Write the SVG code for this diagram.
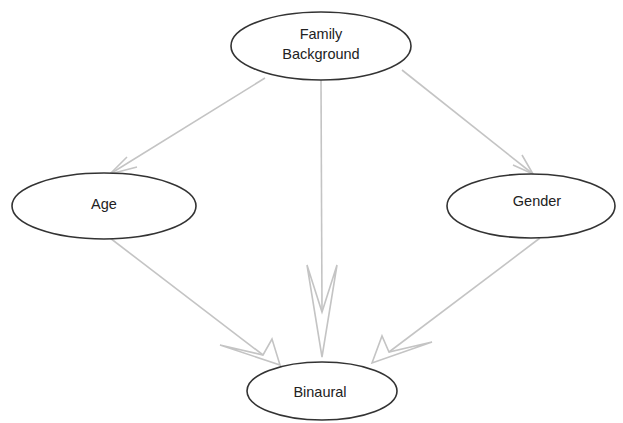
<svg xmlns="http://www.w3.org/2000/svg" width="623" height="423" viewBox="0 0 623 423">
<style>
.node ellipse{fill:#fff;stroke:#333;stroke-width:1.6}
.node text{font-family:"Liberation Sans",Arial,sans-serif;font-size:14.5px;fill:#222;text-anchor:middle}
#edges line,#edges polyline,#edges polygon{fill:none;stroke:#c4c4c4;stroke-width:1.6;stroke-linejoin:miter}
</style>
<rect width="623" height="423" fill="#fff"/>
<g id="edges">
<line x1="265" y1="78" x2="110" y2="174"/>
<polyline points="127,157 110,174 137,167"/>
<line x1="402" y1="70" x2="533" y2="174"/>
<polyline points="522,155 533,174 513,165"/>
<line x1="321" y1="80" x2="322" y2="312"/>
<polygon points="322,357 307,265 322,312 337,265"/>
<line x1="110" y1="238" x2="263" y2="355"/>
<polygon points="280,365 220,345 263,355 272,339"/>
<line x1="540" y1="238" x2="389" y2="352"/>
<polygon points="372,363 382,336 389,352 432,342"/>
</g>
<g id="family-background" class="node">
<ellipse cx="321" cy="46" rx="90" ry="34"/>
<text x="321" y="39">Family</text>
<text x="321" y="59">Background</text>
</g>
<g id="age" class="node">
<ellipse cx="104" cy="206" rx="92" ry="33"/>
<text x="104" y="209">Age</text>
</g>
<g id="gender" class="node">
<ellipse cx="531" cy="206" rx="84" ry="32"/>
<text x="537" y="206">Gender</text>
</g>
<g id="binaural" class="node">
<ellipse cx="322" cy="391" rx="75" ry="29"/>
<text x="320" y="397">Binaural</text>
</g>
</svg>
